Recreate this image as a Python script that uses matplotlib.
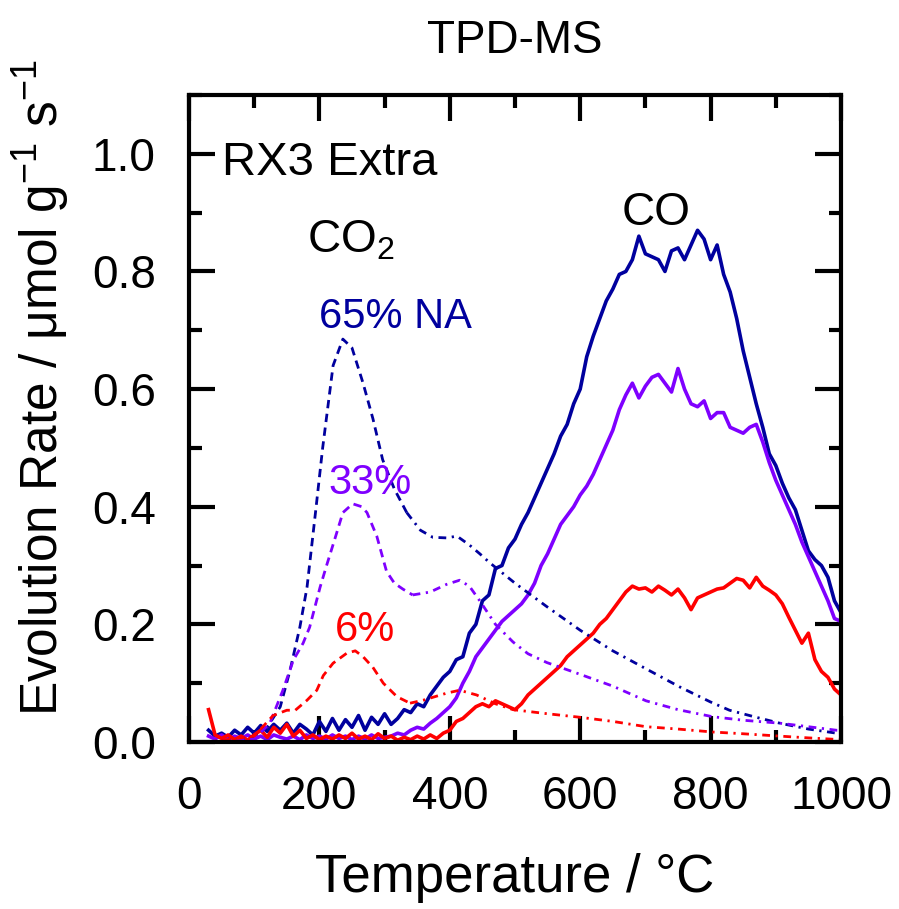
import numpy as np
import matplotlib
matplotlib.use('Agg')
from matplotlib import pyplot as plt
from matplotlib.ticker import MultipleLocator

plt.rcParams['font.family'] = ['Liberation Sans', 'DejaVu Sans']
plt.rcParams['mathtext.fontset'] = 'custom'
plt.rcParams['mathtext.rm'] = 'Liberation Sans'
plt.rcParams['mathtext.it'] = 'Liberation Sans'

navy = '#00009E'
purple = '#7F00FF'
red = '#FF0000'

# CO (solid), sampled every 10 C from 30 to 1000
t_co = np.arange(30, 1001, 10)
co_65 = [0.020, 0.010, 0.015, 0.008, 0.020, 0.012, 0.025, 0.015, 0.028, 0.018,
         0.030, 0.020, 0.032, 0.015, 0.030, 0.022, 0.012, 0.035, 0.018, 0.040,
         0.020, 0.038, 0.025, 0.045, 0.020, 0.042, 0.030, 0.048, 0.030, 0.040,
         0.055, 0.050, 0.065, 0.060, 0.080, 0.095, 0.110, 0.120, 0.140, 0.145,
         0.185, 0.200, 0.240, 0.250, 0.295, 0.300, 0.330, 0.345, 0.370, 0.390,
         0.415, 0.440, 0.465, 0.490, 0.520, 0.540, 0.575, 0.600, 0.655, 0.690,
         0.720, 0.750, 0.770, 0.795, 0.800, 0.820, 0.860, 0.830, 0.825, 0.820,
         0.800, 0.835, 0.840, 0.820, 0.845, 0.870, 0.855, 0.820, 0.845, 0.795,
         0.765, 0.720, 0.665, 0.620, 0.575, 0.535, 0.490, 0.470, 0.440, 0.415,
         0.395, 0.360, 0.325, 0.310, 0.300, 0.280, 0.240, 0.220]
co_33 = [0.010, 0.005, 0.012, 0.004, 0.010, 0.006, 0.012, 0.005, 0.010, 0.004,
         0.012, 0.008, 0.005, 0.010, 0.004, 0.012, 0.006, 0.010, 0.005, 0.012,
         0.006, 0.010, 0.004, 0.010, 0.005, 0.012, 0.006, 0.008, 0.010, 0.015,
         0.012, 0.020, 0.025, 0.022, 0.032, 0.040, 0.050, 0.060, 0.075, 0.100,
         0.120, 0.145, 0.160, 0.175, 0.190, 0.205, 0.215, 0.225, 0.235, 0.250,
         0.270, 0.300, 0.320, 0.345, 0.370, 0.385, 0.400, 0.420, 0.435, 0.455,
         0.480, 0.505, 0.530, 0.565, 0.590, 0.610, 0.585, 0.605, 0.620, 0.625,
         0.610, 0.595, 0.635, 0.600, 0.575, 0.570, 0.580, 0.550, 0.560, 0.560,
         0.535, 0.530, 0.525, 0.535, 0.540, 0.510, 0.475, 0.445, 0.420, 0.395,
         0.370, 0.340, 0.315, 0.290, 0.265, 0.240, 0.210, 0.205]
co_6 = [0.055, 0.012, 0.006, 0.012, 0.004, 0.010, 0.003, 0.012, 0.020, 0.008,
        0.025, 0.015, 0.030, 0.010, 0.020, 0.006, 0.012, 0.004, 0.010, 0.005,
        0.012, 0.006, 0.015, 0.005, 0.010, 0.004, 0.014, 0.006, 0.010, 0.003,
        0.008, 0.004, 0.010, 0.005, 0.012, 0.006, 0.015, 0.020, 0.035, 0.040,
        0.050, 0.060, 0.065, 0.060, 0.070, 0.065, 0.060, 0.055, 0.065, 0.080,
        0.090, 0.100, 0.110, 0.120, 0.130, 0.145, 0.155, 0.165, 0.175, 0.185,
        0.200, 0.210, 0.225, 0.240, 0.255, 0.265, 0.260, 0.262, 0.255, 0.265,
        0.258, 0.250, 0.260, 0.245, 0.225, 0.245, 0.250, 0.255, 0.260, 0.262,
        0.270, 0.278, 0.275, 0.262, 0.280, 0.265, 0.258, 0.250, 0.235, 0.212,
        0.190, 0.168, 0.185, 0.140, 0.120, 0.110, 0.090, 0.080]

# CO2 (dashed)
t_co2_65 = [30, 80, 100, 120, 140, 155, 170, 181, 195, 205, 221, 236, 250, 267,
            282, 297, 315, 334, 355, 374, 395, 411, 430, 446, 461, 500, 549, 600,
            650, 700, 752, 800, 829, 870, 906, 950, 993, 1000]
co2_65 = [0.0, 0.005, 0.01, 0.025, 0.06, 0.122, 0.195, 0.263, 0.40, 0.50, 0.64,
          0.685, 0.67, 0.61, 0.55, 0.48, 0.43, 0.39, 0.36, 0.348, 0.347, 0.35,
          0.335, 0.32, 0.305, 0.27, 0.23, 0.19, 0.155, 0.125, 0.094, 0.068,
          0.054, 0.042, 0.032, 0.022, 0.015, 0.014]
t_co2_33 = [30, 100, 124, 144, 160, 175, 185, 201, 211, 225, 236, 251, 265, 273,
            288, 303, 315, 328, 343, 370, 395, 415, 430, 446, 470, 497, 520, 549,
            600, 650, 701, 750, 803, 850, 906, 950, 993, 1000]
co2_33 = [0.0, 0.005, 0.032, 0.088, 0.139, 0.168, 0.195, 0.263, 0.30, 0.35, 0.39,
          0.405, 0.40, 0.39, 0.35, 0.29, 0.27, 0.26, 0.25, 0.255, 0.268, 0.275,
          0.265, 0.24, 0.20, 0.17, 0.15, 0.135, 0.115, 0.095, 0.07, 0.055, 0.043,
          0.037, 0.032, 0.026, 0.02, 0.02]
t_co2_6 = [30, 100, 129, 150, 163, 181, 196, 206, 221, 242, 255, 267, 282, 298,
           319, 339, 359, 395, 415, 441, 470, 497, 550, 600, 650, 701, 750, 803,
           850, 906, 950, 1000]
co2_6 = [0.0, 0.01, 0.045, 0.054, 0.054, 0.071, 0.088, 0.113, 0.134, 0.151,
         0.155, 0.145, 0.127, 0.10, 0.077, 0.066, 0.071, 0.083, 0.088, 0.08,
         0.065, 0.055, 0.048, 0.042, 0.035, 0.026, 0.022, 0.017, 0.014, 0.01,
         0.007, 0.004]

fig = plt.figure(figsize=(8.99, 9.09), dpi=100)
ax = fig.add_axes([189/899, 1-742/909, 652/899, 647/909])

ax.plot(t_co, co_65, color=navy, lw=2.6)
ax.plot(t_co, co_33, color=purple, lw=2.6)
ax.plot(t_co, co_6, color=red, lw=2.6)

split = 330
for t, y, c in [(t_co2_65, co2_65, navy), (t_co2_33, co2_33, purple), (t_co2_6, co2_6, red)]:
    t = np.array(t)
    y = np.array(y)
    i = np.searchsorted(t, split)
    ax.plot(t[:i+1], y[:i+1], color=c, lw=2.0, dashes=(3.0, 2.0))
    ax.plot(t[i:], y[i:], color=c, lw=2.0, dashes=(2.8, 2.0, 0.8, 2.0))

ax.set_xlim(0, 1000)
ax.set_ylim(0, 1.1)
ax.xaxis.set_major_locator(MultipleLocator(200))
ax.xaxis.set_minor_locator(MultipleLocator(100))
ax.yaxis.set_major_locator(MultipleLocator(0.2))
ax.yaxis.set_minor_locator(MultipleLocator(0.1))
ax.yaxis.set_major_formatter(plt.FuncFormatter(lambda v, p: '%.1f' % v))
ax.tick_params(which='both', direction='in', top=True, right=True, width=3,
               labelsize=33, pad=24)
ax.tick_params(which='major', length=19)
ax.tick_params(which='minor', length=9)
for s in ax.spines.values():
    s.set_linewidth(3)

ax.set_xlabel('Temperature / °C', fontsize=38, labelpad=24)
ax.set_ylabel('Evolution Rate / μmol g$^{-1}$ s$^{-1}$', fontsize=37)
ax.yaxis.set_label_coords(-0.18, 0.547)
ax.set_title('TPD-MS', fontsize=33, pad=30)

ax.text(50, 0.985, 'RX3 Extra', fontsize=34, ha='left', va='center')
ax.text(181, 0.853, 'CO$_2$', fontsize=33, ha='left', va='center')
ax.text(717, 0.90, 'CO', fontsize=33, ha='center', va='center')
ax.text(316, 0.722, '65% NA', fontsize=30, ha='center', va='center', color=navy)
ax.text(278, 0.44, '33%', fontsize=30, ha='center', va='center', color=purple)
ax.text(270, 0.19, '6%', fontsize=30, ha='center', va='center', color=red)

plt.savefig('out.png', dpi=100)
